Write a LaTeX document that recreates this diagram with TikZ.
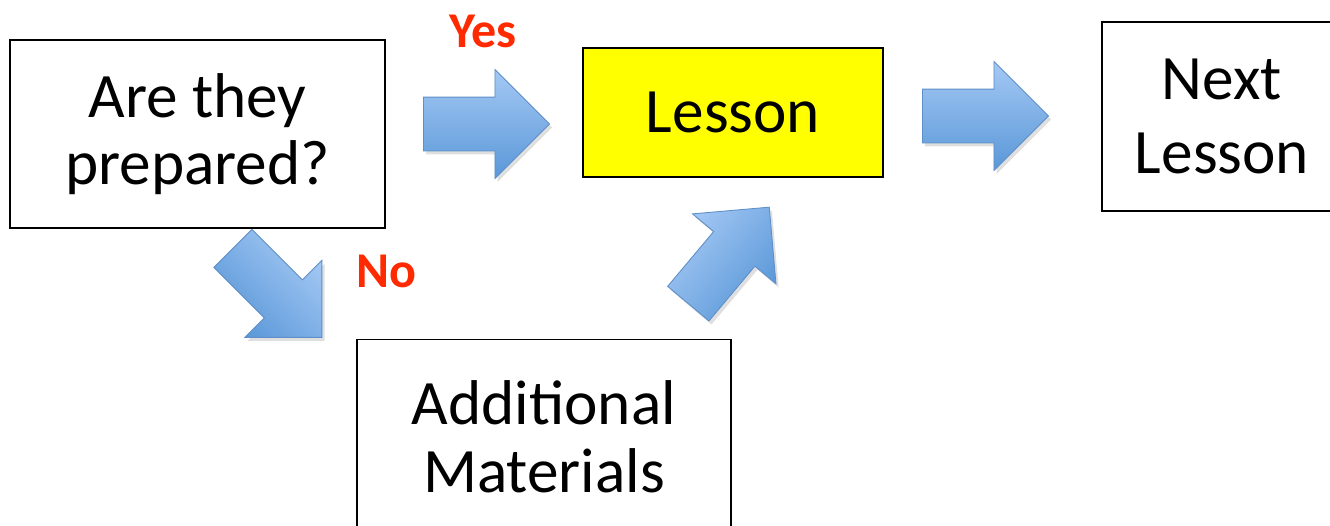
\documentclass[tikz,border=0pt]{standalone}
\usepackage{fontspec}
\setmainfont{Carlito}
\usepackage{xcolor}
\usepackage{tikz}
\usetikzlibrary{shapes.arrows,shadows}

\definecolor{arrowlight}{HTML}{A4C8F4}
\definecolor{arrowdark}{HTML}{5A98D8}
\definecolor{arrowedge}{HTML}{5E8FC8}
\definecolor{lessonfill}{HTML}{FFFF00}
\definecolor{answerred}{HTML}{FF2A00}

\tikzset{
  box/.style={draw=black, line width=1.1pt, align=center, inner sep=0pt,
    font=\fontsize{36}{#1}\selectfont},
  box/.default=40pt,
  blockarrow/.style={single arrow, draw=arrowedge, line width=0.5pt,
    top color=arrowlight, bottom color=arrowdark, shading angle=#1, rotate=#1,
    inner xsep=0pt, inner ysep=0.53cm, minimum height=2.52cm,
    single arrow head extend=0.55cm, anchor=tail,
    drop shadow={opacity=0.25, shadow xshift=1.5pt, shadow yshift=-2pt}},
  answer/.style={text=answerred, font=\bfseries\fontsize{28.5}{32}\selectfont}
}

\begin{document}
\begin{tikzpicture}[x=0.02cm, y=-0.02cm]

    \clip (0,0) rectangle (1330,525);

    % boxes
    \node[box=38pt, minimum width=7.5cm, minimum height=3.76cm] (prepared) at (197.5,134) {Are they\\prepared?};
    \node[box, fill=lessonfill, minimum width=6cm, minimum height=2.58cm] (lesson) at (733,112.5) {Lesson};
    \node[box=42pt, minimum width=4.8cm, minimum height=3.78cm] (next) at (1222,116.5) {Next\\Lesson};
    \node[box=39pt, minimum width=7.48cm, minimum height=3.9cm] (extra) at (544,437) {Additional\\Materials};

    % block arrows
    \node[blockarrow=0]   (a_yes)  at (423,124)   {};
    \node[blockarrow=0]   (a_next) at (922,116)   {};
    \node[blockarrow=-45] (a_no)   at (232.5,248) {};
    \node[blockarrow=50]  (a_back) at (688,304)   {};

    % answers
    \node[answer] (yes) at (483,31)  {Yes};
    \node[answer] (no)  at (386,271) {No};

\end{tikzpicture}
\end{document}
